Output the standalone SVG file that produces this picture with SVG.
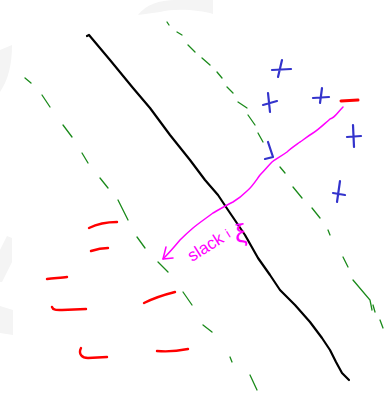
<svg xmlns="http://www.w3.org/2000/svg" width="385" height="393" viewBox="0 0 385 393">
<defs>
<style>
.wm{fill:#f4f4f4;stroke:none}
.g{fill:none;stroke:#1a8a1a;stroke-width:1.3;stroke-linecap:round}
.blk{fill:none;stroke:#000;stroke-width:2.2;stroke-linecap:round;stroke-linejoin:round}
.b{fill:none;stroke:#3333cc;stroke-width:2.2;stroke-linecap:round;stroke-linejoin:round}
.r{fill:none;stroke:#ff0000;stroke-width:2.4;stroke-linecap:round;stroke-linejoin:round}
.m{fill:none;stroke:#ff00ff;stroke-width:1.5;stroke-linecap:round;stroke-linejoin:round}
.mt{fill:#ff00ff;font-family:"Liberation Sans",sans-serif;font-size:17px}
</style>
</defs>
<rect width="385" height="393" fill="#fff"/>
<g id="watermark">
<path class="wm" d="M138,15 C145,5 160,0 175,0 L213,0 L213,14 C200,10 175,8 160,12 Z"/>
<path class="wm" d="M0,50 L12,45 C12,65 8,80 0,92 Z"/>
<path class="wm" d="M7,236 L12,238 L12,262 L2,282 L0,282 L0,250 Z"/>
<path class="wm" d="M0,306 L13,310 L13,335 L0,333 Z"/>
</g>
<g id="hyperplane">
<path class="blk" d="M87,36 L89,35 L110,60 L133,88 L150,108 L170,135 L190,160 L205,180 L218,195 L228,210 L245,235 L258,258 L270,275 L280,290 L295,305 L310,322 L322,338 L330,350 L336,362 L342,373 L349,380"/>
</g>
<g id="margin-left">
<path class="g" d="M25,78 L31,83 M42,95 L50,107 M63,125 L72,137 M82,153 L88,163 M100,178 L108,188 M118,200 L128,220 M137,237 L145,248 M158,262 L168,272 M183,292 L192,305 M203,325 L212,332 M230,357 L232,362 M250,375 L257,390"/>
</g>
<g id="margin-right">
<path class="g" d="M167,22 L169,25 M177,32 L182,35 M188,45 L195,52 M202,58 L210,65 M217,72 L222,78 M227,87 L233,93 M238,102 L247,108 M248,115 L255,125 M258,133 L263,142 M280,167 L285,173 M293,187 L302,198 M312,208 L320,218 M328,230 L330,235 M343,257 L348,267 M353,280 L370,300 L372,310 M373,305 L375,312 M380,320 L383,328"/>
</g>
<g id="positives">
<path class="b" d="M282,60 L278,77 M272,70 L291,69"/>
<path class="b" d="M268,93 L270,112 M263,105 L277,101"/>
<path class="b" d="M322,88 L320,103 M313,98 L329,97"/>
<path class="b" d="M353,125 L354,147 M347,137 L361,136"/>
<path class="b" d="M340,181 L337,202 M333,193 L345,195"/>
<path class="b" d="M268,142 L273,157 L265,159"/>
</g>
<g id="negatives">
<path class="r" d="M341,101 L358,100" style="stroke-width:3"/>
<path class="r" d="M89,228 C97,224 108,222 117,222"/>
<path class="r" d="M91,251 C97,249 103,248 108,248"/>
<path class="r" d="M47,279 C54,278 61,278 67,277"/>
<path class="r" d="M52,307 C53,310 56,310 62,310 L86,309"/>
<path class="r" d="M144,303 C152,299 163,295 175,292"/>
<path class="r" d="M81,348 C78,354 82,358 88,358 L107,357"/>
<path class="r" d="M157,351 C168,352 178,351 188,349"/>
</g>
<g id="slack">
<path class="m" d="M343,107 C337,113 335,118 330,119 C322,126 318,130 313,133 C305,138 302,141 300,142 C293,147 290,149 287,152 C280,157 276,159 272,162 C268,166 265,170 260,175 C255,182 252,187 247,191 C242,196 238,199 233,202 C225,206 220,209 213,213 C205,219 199,223 193,228 C186,234 183,237 180,240 C175,246 170,252 163,259"/>
<path class="m" d="M166,247 L163,259 L173,258"/>
<text class="mt" transform="translate(192,262) rotate(-32)">slack</text>
<text class="mt" transform="translate(229,238) rotate(-32)" style="font-size:13px">i</text>
<text class="mt" transform="translate(236,243) rotate(-8)" style="font-size:26px">ξ</text>
</g>
</svg>
